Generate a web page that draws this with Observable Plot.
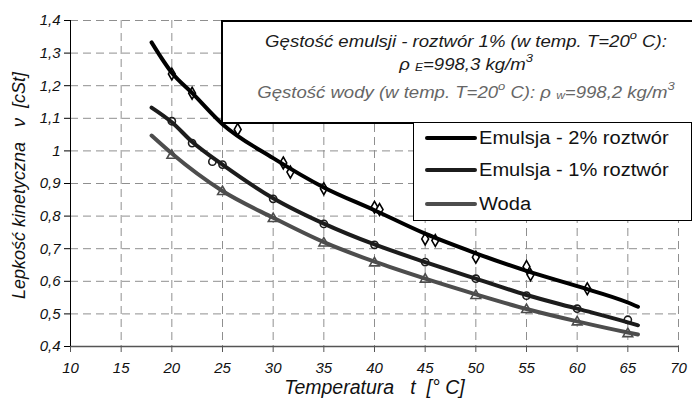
<!DOCTYPE html>
<html><head><meta charset="utf-8">
<script src="https://cdn.jsdelivr.net/npm/d3@7"></script>
<script src="https://cdn.jsdelivr.net/npm/@observablehq/plot@0.6"></script>
<style>
body{margin:0;background:#fff;}
#wrap{position:relative;width:692px;height:408px;overflow:hidden;font-family:"Liberation Sans",Arial,sans-serif;}
#wrap svg{position:absolute;left:0;top:0;}
.ann{position:absolute;left:221px;top:20px;width:540px;height:104px;border:2px solid #000;background:#fff;box-sizing:border-box;}
.aline{position:absolute;left:-2px;width:490px;height:20px;line-height:20px;text-align:center;font-style:italic;font-size:16px;white-space:nowrap;color:#1a1a1a;transform:scaleX(1.16);transform-origin:center;}
.aline.gray{color:#666;}
.sup{font-size:0.7em;vertical-align:0.7em;}
.sub{font-size:0.65em;vertical-align:-0.15em;}
.leg{position:absolute;left:413px;top:122px;width:279px;height:99px;border:1.5px solid #000;background:#fff;box-sizing:border-box;}
.row{position:absolute;left:0;height:24px;width:100%;}
.sw{position:absolute;left:11px;top:10px;width:52px;height:4px;border-radius:2px;}
.lt{position:absolute;left:65px;top:0;height:24px;line-height:24px;font-size:18px;white-space:nowrap;color:#111;transform:scaleX(1.115);transform-origin:left center;}
</style>
</head><body>
<div id="wrap"></div>
<script>
// x ticks / y ticks
const xTicks = [10,15,20,25,30,35,40,45,50,55,60,65,70];
const yTicks = [0.4,0.5,0.6,0.7,0.8,0.9,1.0,1.1,1.2,1.3,1.4];

// series names
const seriesNames = ["Emulsja - 2% roztwór", "Emulsja - 1% roztwór", "Woda"];
const seriesColors = ["#000000", "#1c1c1c", "#4d4d4d"];

// fitted curves
const curve2T = [18,20,22,25,30,35,40,45,50,55,60,65,66];
const curve2V = [1.333,1.24,1.178,1.082,0.978,0.888,0.818,0.746,0.686,0.632,0.585,0.535,0.522];
const curve1T = [18,20,22,25,30,35,40,45,50,55,60,65,66];
const curve1V = [1.133,1.088,1.028,0.958,0.855,0.777,0.713,0.659,0.608,0.558,0.516,0.474,0.465];
const curveWT = [18,20,25,30,35,40,45,50,55,60,65,66];
const curveWV = [1.047,0.992,0.877,0.795,0.72,0.66,0.608,0.56,0.515,0.477,0.443,0.437];

// measured points
const pts2T = [20,22,26.5,31,31.7,35,40,40.5,45,46,50,55,55.4,61];
const pts2V = [1.236,1.177,1.066,0.963,0.935,0.884,0.827,0.82,0.730,0.725,0.674,0.645,0.62,0.577];
const pts1T = [20,22,24,25,30,35,40,45,50,55,60,65];
const pts1V = [1.091,1.024,0.967,0.958,0.853,0.776,0.712,0.659,0.608,0.556,0.516,0.482];
const ptsWT = [20,25,30,35,40,45,50,55,60,65];
const ptsWV = [0.986,0.875,0.792,0.717,0.656,0.606,0.556,0.513,0.475,0.439];

const yLabel = "Lepkość kinetyczna\u00a0\u00a0\u00a0ν\u00a0\u00a0[cSt]";
const xLabel = "Temperatura\u00a0\u00a0\u00a0t\u00a0\u00a0[° C]";

const toRows = (T, V) => T.map((t, i) => ({t, v: V[i]}));
const c2 = toRows(curve2T, curve2V), c1 = toRows(curve1T, curve1V), cw = toRows(curveWT, curveWV);
const p2 = toRows(pts2T, pts2V), p1 = toRows(pts1T, pts1V), pw = toRows(ptsWT, ptsWV);
const fmt = d => String(Math.round(d * 10) / 10).replace(".", ",");
const grid = {stroke: "#8f8f8f", strokeOpacity: 1, strokeDasharray: "8,5", strokeWidth: 1};

const plot = Plot.plot({
  width: 692, height: 408,
  marginLeft: 70, marginRight: 14, marginTop: 20, marginBottom: 62,
  x: {domain: [10, 70]},
  y: {domain: [0.4, 1.4]},
  style: {fontFamily: '"Liberation Sans", Arial, sans-serif', fontStyle: "italic", color: "#111", background: "#fff"},
  marks: [
    Plot.gridX(xTicks.slice(1), grid),
    Plot.gridY(yTicks.slice(1), grid),
    Plot.axisX(xTicks, {tickSize: 6, tickPadding: 10, fontSize: 15, tickFormat: d => String(d), label: null, stroke: "#555"}),
    Plot.axisY(yTicks, {tickSize: 6, tickPadding: 4, fontSize: 15, tickFormat: fmt, label: null, stroke: "#000"}),
    Plot.ruleY([0.4], {stroke: "#555", strokeWidth: 1.5}),
    Plot.ruleX([10], {stroke: "#000", strokeWidth: 1}),
    Plot.dot(p2, {x: "t", y: "v", symbol: "diamond", r: 3.6, fill: "#fff", stroke: seriesColors[0], strokeWidth: 1.6}),
    Plot.dot(p1, {x: "t", y: "v", symbol: "circle", r: 3.6, fill: "#fff", stroke: seriesColors[1], strokeWidth: 1.6}),
    Plot.dot(pw, {x: "t", y: "v", symbol: "triangle", r: 3.6, fill: "#fff", stroke: seriesColors[2], strokeWidth: 1.6}),
    Plot.line(cw, {x: "t", y: "v", curve: "monotone-x", stroke: seriesColors[2], strokeWidth: 4}),
    Plot.line(c1, {x: "t", y: "v", curve: "monotone-x", stroke: seriesColors[1], strokeWidth: 4}),
    Plot.line(c2, {x: "t", y: "v", curve: "monotone-x", stroke: seriesColors[0], strokeWidth: 4}),
    Plot.text([yLabel], {text: d => d, frameAnchor: "left", rotate: -90, dx: -51, dy: 2, textAnchor: "middle", fontSize: 18, fill: "#111"}),
    Plot.text([xLabel], {text: d => d, frameAnchor: "bottom", dy: 47, textAnchor: "middle", fontSize: 19.5, fill: "#111"})
  ]
});

const wrap = document.getElementById("wrap");
wrap.appendChild(plot);

// annotation box
const ann = document.createElement("div");
ann.className = "ann";
ann.innerHTML =
  '<div class="aline" style="top:3px">Gęstość emulsji - roztwór 1% (w temp. T=20<span class="sup">o</span> C):</div>' +
  '<div class="aline" style="top:26px">ρ <span class="sub">E</span>=998,3 kg/m<span class="sup">3</span></div>' +
  '<div class="aline gray" style="top:54px">Gęstość wody (w temp. T=20<span class="sup">o</span> C): ρ <span class="sub">w</span>=998,2 kg/m<span class="sup">3</span></div>';
wrap.appendChild(ann);

// legend
const leg = document.createElement("div");
leg.className = "leg";
const rowTops = [3, 35, 69];
seriesNames.forEach((name, i) => {
  const r = document.createElement("div");
  r.className = "row";
  r.style.top = rowTops[i] + "px";
  r.innerHTML = '<span class="sw" style="background:' + seriesColors[i] + '"></span><span class="lt">' + name + '</span>';
  leg.appendChild(r);
});
wrap.appendChild(leg);
</script>
</body></html>
